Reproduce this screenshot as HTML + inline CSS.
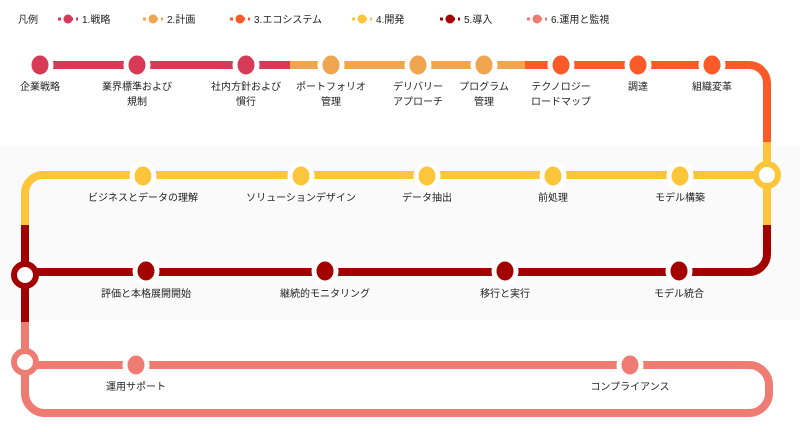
<!DOCTYPE html>
<html><head><meta charset="utf-8"><style>
body{margin:0;background:#fff;}
svg{display:block;font-family:"Liberation Sans","Noto Sans CJK JP",sans-serif;}
text{font-size:10px;fill:#222;}
</style></head><body>
<svg width="800" height="432" viewBox="0 0 800 432">
<rect x="0" y="145" width="800" height="175" fill="#fafafa"/>
<text x="18" y="23">凡例</text>
<g stroke-width="3" stroke-dasharray="3 3">
<line x1="58" y1="19" x2="78" y2="19" stroke="#d63a56"/>
<line x1="143" y1="19" x2="163" y2="19" stroke="#f0a550"/>
<line x1="230" y1="19" x2="250" y2="19" stroke="#fa5a28"/>
<line x1="352" y1="19" x2="372" y2="19" stroke="#fdc63a"/>
<line x1="440" y1="19" x2="460" y2="19" stroke="#a30000"/>
<line x1="527" y1="19" x2="547" y2="19" stroke="#ee7c72"/>
</g>
<circle cx="68" cy="19" r="4.5" fill="#d63a56"/>
<circle cx="153" cy="19" r="4.5" fill="#f0a550"/>
<circle cx="240" cy="19" r="4.5" fill="#fa5a28"/>
<circle cx="362" cy="19" r="4.5" fill="#fdc63a"/>
<circle cx="450" cy="19" r="4.5" fill="#a30000"/>
<circle cx="537" cy="19" r="4.5" fill="#ee7c72"/>
<text x="82" y="23">1.戦略</text>
<text x="167" y="23">2.計画</text>
<text x="254" y="23">3.エコシステム</text>
<text x="376" y="23">4.開発</text>
<text x="464" y="23">5.導入</text>
<text x="551" y="23">6.運用と監視</text>
<g fill="none" stroke-width="8" stroke-linecap="butt">
<path d="M40 65 H290" stroke="#d63a56"/>
<path d="M290 65 H525" stroke="#f0a550"/>
<path d="M525 65 H749 A18 18 0 0 1 767 83 V142" stroke="#fa5a28"/>
<path d="M767 142 V175 H43 A18 18 0 0 0 25 193 V228" stroke="#fdc63a"/>
<path d="M767 175 V225" stroke="#fdc63a"/>
<path d="M767 225 V254 A18 18 0 0 1 749 272 H25 V225" stroke="#a30000"/>
<path d="M25 272 V322" stroke="#a30000"/>
<path d="M25 322 V365 H749 A20 20 0 0 1 769 385 V393 A20 20 0 0 1 749 413 H45 A20 20 0 0 1 25 393 V365" stroke="#ee7c72"/>
</g>
<g stroke="#fff" stroke-width="5">
<g fill="#d63a56"><ellipse cx="40" cy="65" rx="11" ry="12"/><ellipse cx="137" cy="65" rx="11" ry="12"/><ellipse cx="246" cy="65" rx="11" ry="12"/></g>
<g fill="#f0a550"><ellipse cx="331" cy="65" rx="11" ry="12"/><ellipse cx="418" cy="65" rx="11" ry="12"/><ellipse cx="484" cy="65" rx="11" ry="12"/></g>
<g fill="#fa5a28"><ellipse cx="561" cy="65" rx="11" ry="12"/><ellipse cx="638" cy="65" rx="11" ry="12"/><ellipse cx="712" cy="65" rx="11" ry="12"/></g>
<g fill="#fdc63a"><ellipse cx="143" cy="176" rx="11" ry="12"/><ellipse cx="301" cy="176" rx="11" ry="12"/><ellipse cx="427" cy="176" rx="11" ry="12"/><ellipse cx="553" cy="176" rx="11" ry="12"/><ellipse cx="680" cy="176" rx="11" ry="12"/></g>
<g fill="#a30000"><ellipse cx="146" cy="271" rx="11" ry="12"/><ellipse cx="325" cy="271" rx="11" ry="12"/><ellipse cx="505" cy="271" rx="11" ry="12"/><ellipse cx="679" cy="271" rx="11" ry="12"/></g>
<g fill="#ee7c72"><ellipse cx="136" cy="365" rx="11" ry="12"/><ellipse cx="630" cy="365" rx="11" ry="12"/></g>
</g>
<circle cx="767" cy="175" r="11" fill="#fff" stroke="#fdc63a" stroke-width="6"/>
<circle cx="25" cy="275" r="11" fill="#fff" stroke="#a30000" stroke-width="6"/>
<circle cx="25" cy="362" r="11" fill="#fff" stroke="#ee7c72" stroke-width="6"/>
<g text-anchor="middle">
<text x="40" y="90">企業戦略</text>
<text x="137" y="90">業界標準および</text><text x="137" y="105">規制</text>
<text x="246" y="90">社内方針および</text><text x="246" y="105">慣行</text>
<text x="331" y="90">ポートフォリオ</text><text x="331" y="105">管理</text>
<text x="418" y="90">デリバリー</text><text x="418" y="105">アプローチ</text>
<text x="484" y="90">プログラム</text><text x="484" y="105">管理</text>
<text x="561" y="90">テクノロジー</text><text x="561" y="105">ロードマップ</text>
<text x="638" y="90">調達</text>
<text x="712" y="90">組織変革</text>
<text x="143" y="201">ビジネスとデータの理解</text>
<text x="301" y="201">ソリューションデザイン</text>
<text x="427" y="201">データ抽出</text>
<text x="553" y="201">前処理</text>
<text x="680" y="201">モデル構築</text>
<text x="146" y="297">評価と本格展開開始</text>
<text x="325" y="297">継続的モニタリング</text>
<text x="505" y="297">移行と実行</text>
<text x="679" y="297">モデル統合</text>
<text x="136" y="390">運用サポート</text>
<text x="630" y="390">コンプライアンス</text>
</g>
</svg>
</body></html>
